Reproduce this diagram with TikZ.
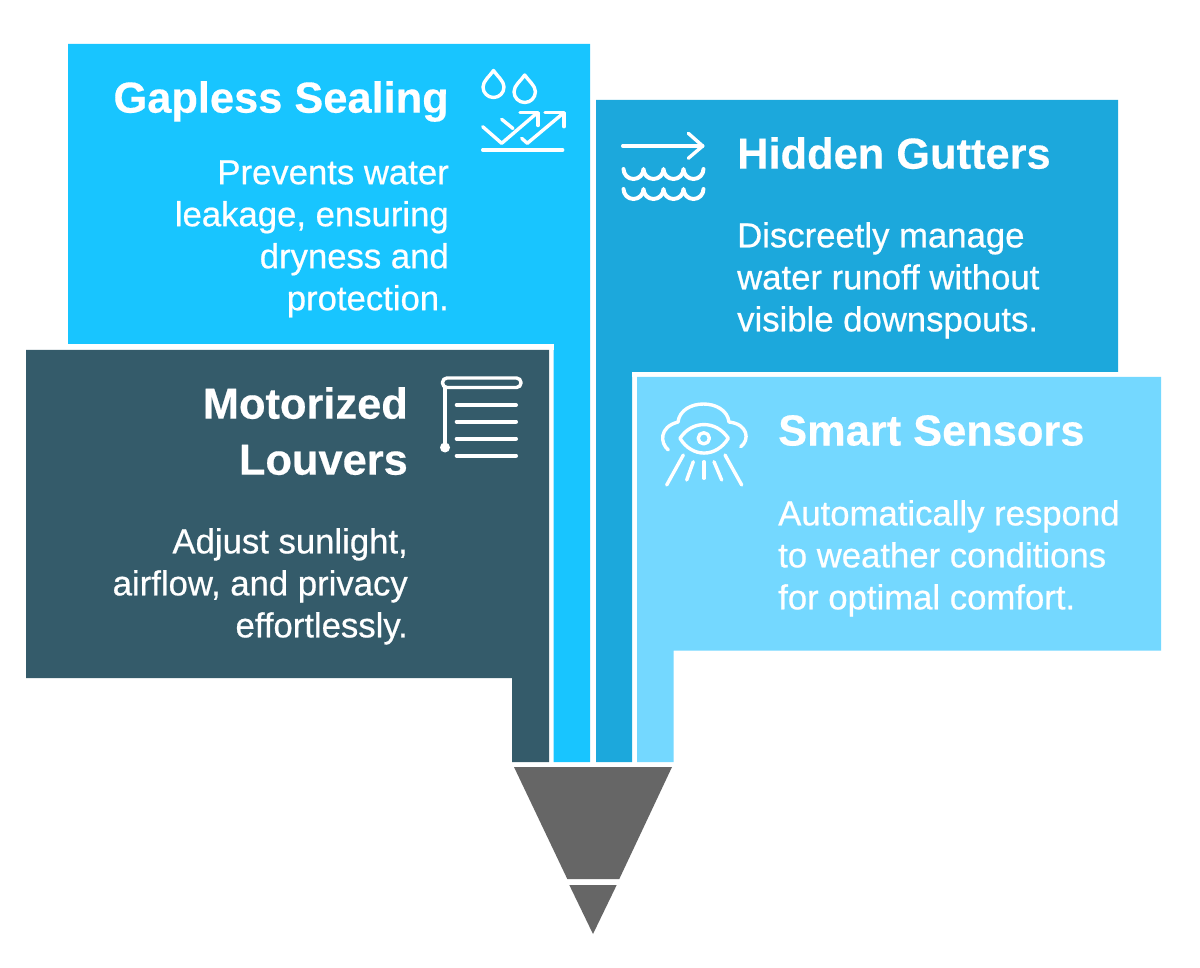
\documentclass[tikz,border=0pt]{standalone}
\usepackage{fontspec}
\setmainfont{Liberation Sans}
\newfontfamily\titlefont[FakeBold=0.4]{Liberation Sans Bold}
\newfontfamily\bodyfont[FakeBold=0.6]{Liberation Sans}
\definecolor{cbright}{HTML}{18C5FF}
\definecolor{chidden}{HTML}{1CA8DC}
\definecolor{csmart}{HTML}{74D8FF}
\definecolor{cdark}{HTML}{345B6A}
\definecolor{cgray}{HTML}{666666}
\tikzset{
  x=1pt,y=-1pt,
  titletext/.style={inner sep=0pt,text=white,font=\fontsize{43.4}{56}\selectfont\titlefont},
  bodytext/.style={inner sep=0pt,text=white,font=\fontsize{34.7}{42}\selectfont\bodyfont},
  icon/.style={draw=white,line width=4pt,line cap=round,line join=round},
  iconthin/.style={draw=white,line width=3.4pt,line cap=round,line join=round},
}
\newcommand{\tstrt}{\rule{0pt}{30pt}}
\newcommand{\bstrt}{\rule{0pt}{24pt}}
\begin{document}
\begin{tikzpicture}
\useasboundingbox (0,0) rectangle (1200,968);
\fill[white] (0,0) rectangle (1200,968);
% panels
\fill[cbright] (68,44) -- (590,44) -- (590,762) -- (553.5,762) -- (553.5,344) -- (68,344) -- cycle;
\fill[chidden] (596,100) -- (1118,100) -- (1118,372) -- (632,372) -- (632,762) -- (596,762) -- cycle;
\fill[white] (20,344.5) rectangle (553.5,350);
\fill[cdark] (26,350) -- (549,350) -- (549,762) -- (512,762) -- (512,678) -- (26,678) -- cycle;
\fill[white] (632,372.5) rectangle (1166,377);
\fill[csmart] (637,377) -- (1161,377) -- (1161,650.5) -- (673.5,650.5) -- (673.5,762) -- (637,762) -- cycle;
% funnel
\fill[cgray] (514,767) -- (672,767) -- (619.3,879) -- (567.3,879) -- cycle;
\fill[cgray] (569.3,885) -- (616.7,885) -- (593,934) -- cycle;
% text
\node[titletext,anchor=north east] (t1) at (449,81) {\tstrt Gapless Sealing};
\node[bodytext,anchor=north east,align=right] (b1) at (449,160) {\bstrt Prevents water\\leakage, ensuring\\dryness and\\protection.};
\node[titletext,anchor=north west] (t2) at (737,137) {\tstrt Hidden Gutters};
\node[bodytext,anchor=north west,align=left] (b2) at (737,222) {\bstrt Discreetly manage\\water runoff without\\visible downspouts.};
\node[titletext,anchor=north east,align=right] (t3) at (408,387) {\tstrt Motorized\\Louvers};
\node[bodytext,anchor=north east,align=right] (b3) at (408,528) {\bstrt Adjust sunlight,\\airflow, and privacy\\effortlessly.};
\node[titletext,anchor=north west] (t4) at (778,415) {\tstrt Smart Sensors};
\node[bodytext,anchor=north west,align=left] (b4) at (778,500) {\bstrt Automatically respond\\to weather conditions\\for optimal comfort.};
% icon: drops and checks
\draw[iconthin] (493.5,70.5) .. controls (489.5,76.5) and (483,81) .. (483,87) arc[start angle=180,end angle=0,radius=10.5] .. controls (504,81) and (497.5,76.5) .. (493.5,70.5) -- cycle;
\draw[iconthin] (524.7,75) .. controls (520.7,81) and (514,85.5) .. (514,91.8) arc[start angle=180,end angle=0,radius=10.7] .. controls (535.4,85.5) and (528.7,81) .. (524.7,75) -- cycle;
\draw[iconthin] (482.7,126.7) -- (501.7,143.3) -- (537,113);
\draw[iconthin] (520,112.7) -- (538,112.7) -- (538,125.5);
\draw[iconthin] (501.7,119.3) -- (513,128.5);
\draw[iconthin] (521.7,138.3) -- (527.3,143.3) -- (563.5,113);
\draw[iconthin] (545,112.7) -- (564,112.7) -- (564,126.7);
\draw[iconthin] (482.7,150) -- (562.7,150);
% icon: arrow and waves
\draw[iconthin] (622.7,146) -- (702.7,146);
\draw[iconthin] (688.3,133.3) -- (702.7,146) -- (688.3,158.3);
\foreach \yy in {169,189}{
  \draw[icon] (623.5,\yy) arc[start angle=180,end angle=0,x radius=10,y radius=10]
     arc[start angle=180,end angle=0,x radius=10,y radius=10]
     arc[start angle=180,end angle=0,x radius=10,y radius=10]
     arc[start angle=180,end angle=0,x radius=10,y radius=10];
}
% icon: louvers
\draw[iconthin,rounded corners=4.5pt] (442.5,378) rectangle (521,387.5);
\draw[iconthin] (445,388) -- (445,447);
\fill[white] (445,447.5) circle[radius=5];
\foreach \yy in {405,421.7,438.7,455.7}{\draw[icon] (456.7,\yy) -- (516,\yy);}
% icon: cloud, eye, rays
\draw[iconthin] (668.3,450) .. controls (660,443) and (659,427) .. (678,422) .. controls (681,398) and (726,398) .. (729,422) .. controls (748,424) and (750,440) .. (740.7,446.7);
\draw[iconthin] (680,438.3) .. controls (692,420) and (716,420) .. (728.3,438.3) .. controls (716,458) and (692,458) .. (680,438.3) -- cycle;
\draw[iconthin] (703.8,438.3) circle[radius=5.6];
\draw[iconthin] (683.3,455) -- (666.7,485);
\draw[iconthin] (693.3,461.7) -- (686.7,480);
\draw[iconthin] (704,461.7) -- (704,478.3);
\draw[iconthin] (714,461.7) -- (721.7,480);
\draw[iconthin] (725,455) -- (741.7,485);
\end{tikzpicture}
\end{document}
